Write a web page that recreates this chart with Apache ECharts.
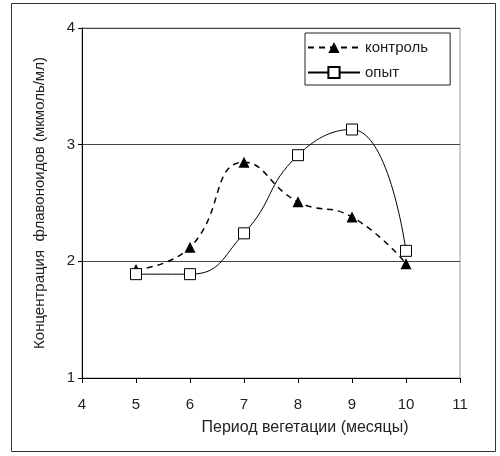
<!DOCTYPE html>
<html>
<head>
<meta charset="utf-8">
<script src="https://cdn.jsdelivr.net/npm/echarts@6/dist/echarts.min.js"></script>
<style>
  html, body { margin: 0; padding: 0; background: #fff; }
  #chart { width: 500px; height: 456px; }
</style>
</head>
<body>
<div id="chart"></div>
<script>
const months = [5, 6, 7, 8, 9, 10];
const control = [1.93, 2.12, 2.85, 2.51, 2.38, 1.98];
const experiment = [1.89, 1.89, 2.24, 2.91, 3.13, 2.09];

const font = "Liberation Sans, Arial, sans-serif";

const chart = echarts.init(document.getElementById("chart"));

chart.setOption({
  animation: false,
  textStyle: { fontFamily: font },
  graphic: [
    {
      type: "rect",
      shape: { x: 11.5, y: 3.5, width: 484, height: 448 },
      style: { fill: "none", stroke: "#333", lineWidth: 1 },
      z: -1,
    },
  ],
  grid: {
    left: 82,
    top: 28,
    width: 378,
    height: 350,
    show: true,
    borderColor: "#999",
    borderWidth: 1,
  },
  legend: {
    orient: "vertical",
    left: 305,
    top: 33,
    padding: [7, 22, 5, 2],
    itemGap: 10,
    itemWidth: 52,
    itemHeight: 14,
    borderColor: "#222",
    borderWidth: 1,
    textStyle: { fontSize: 15, color: "#222", fontFamily: font },
    data: ["контроль", "опыт"],
  },
  xAxis: {
    type: "value",
    min: 4,
    max: 11,
    interval: 1,
    name: "Период вегетации (месяцы)",
    nameLocation: "middle",
    nameGap: 42,
    nameTextStyle: { fontSize: 16, color: "#222", padding: [0, 0, 0, 68] },
    axisLine: { lineStyle: { color: "#000", width: 1 } },
    axisTick: { show: true, length: 5, lineStyle: { color: "#000" } },
    axisLabel: { fontSize: 15, color: "#222", margin: 19 },
    splitLine: { show: false },
  },
  yAxis: {
    type: "value",
    min: 1,
    max: 4,
    interval: 1,
    name: "Концентрация  флавоноидов (мкмоль/мл)",
    nameLocation: "middle",
    nameGap: 35,
    nameTextStyle: { fontSize: 15, color: "#222" },
    axisLine: { show: true, lineStyle: { color: "#000", width: 1 } },
    axisTick: { show: true, length: 4, lineStyle: { color: "#000" } },
    axisLabel: { fontSize: 15, color: "#222", margin: 7 },
    splitLine: { show: true, lineStyle: { color: "#444", width: 1 } },
  },
  series: [
    {
      name: "контроль",
      type: "line",
      smooth: 0.5,
      data: months.map((m, i) => [m, control[i]]),
      symbol: "triangle",
      symbolSize: 11,
      itemStyle: { color: "#000" },
      lineStyle: { color: "#000", width: 1.5, type: [6, 5] },
      z: 3,
    },
    {
      name: "опыт",
      type: "line",
      smooth: 0.5,
      data: months.map((m, i) => [m, experiment[i]]),
      symbol: "rect",
      symbolSize: 11,
      itemStyle: { color: "#fff", borderColor: "#000", borderWidth: 1 },
      lineStyle: { color: "#000", width: 1 },
      z: 4,
    },
  ],
});
</script>
</body>
</html>
